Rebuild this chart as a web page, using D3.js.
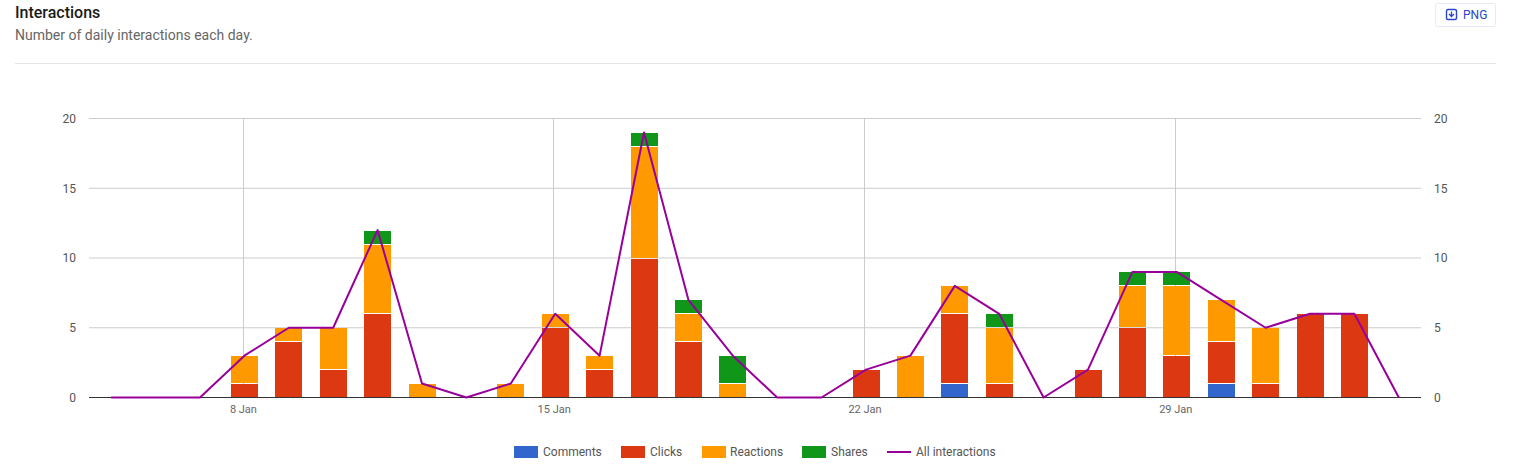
<!DOCTYPE html>
<html><head><meta charset="utf-8">
<script src="https://cdn.jsdelivr.net/npm/d3@7/dist/d3.min.js"></script>
<style>html,body{margin:0;padding:0;background:#fff}svg{display:block}text{font-family:Roboto,sans-serif}</style>
</head><body><svg id="c" width="1515" height="470"></svg>
<script>
const startDay = "2018-01-05";
const comments  = [0,0,0,0,0,0,0,0,0,0,0,0,0,0,0,0,0,0,0,1,0,0,0,0,0,1,0,0,0,0];
const clicks    = [0,0,0,1,4,2,6,0,0,0,5,2,10,4,0,0,0,2,0,5,1,0,2,5,3,3,1,6,6,0];
const reactions = [0,0,0,2,1,3,5,1,0,1,1,1,8,2,1,0,0,0,3,2,4,0,0,3,5,3,4,0,0,0];
const shares    = [0,0,0,0,0,0,1,0,0,0,0,0,1,1,2,0,0,0,0,0,1,0,0,1,1,0,0,0,0,0];
const allInteractions = [0,0,0,3,5,5,12,1,0,1,6,3,19,7,3,0,0,2,3,8,6,0,2,9,9,7,5,6,6,0];
const yTicks = [0,5,10,15,20];
const xTickDays = ["2018-01-08","2018-01-15","2018-01-22","2018-01-29"];
const seriesNames = ["Comments","Clicks","Reactions","Shares"];
const seriesColors = ["#3366cc","#dc3912","#ff9900","#109618"];
const lineName = "All interactions", lineColor = "#990099";

const svg = d3.select("#c");
const parse = d3.utcParse("%Y-%m-%d");
const t0 = parse(startDay);
const days = allInteractions.map((_,i)=>d3.utcDay.offset(t0,i));
const x = d3.scaleUtc()
  .domain([d3.utcHour.offset(t0,-12), d3.utcHour.offset(days[days.length-1],12)])
  .range([89,1421]);
const y = d3.scaleLinear().domain([0,20]).range([397.5,118.5]);

// header
svg.append("text").attr("x",15).attr("y",18).attr("font-size",16).attr("font-weight",500).attr("fill","#1a1a1a").text("Interactions");
svg.append("text").attr("x",15).attr("y",40).attr("font-size",14).attr("fill","#666").text("Number of daily interactions each day.");
svg.append("line").attr("x1",15).attr("x2",1496).attr("y1",63.5).attr("y2",63.5).attr("stroke","#e4e4e4");
// PNG button
const b = svg.append("g");
b.append("rect").attr("x",1435.5).attr("y",3.5).attr("width",60).attr("height",23).attr("rx",2).attr("fill","#fff").attr("stroke","#e6e9f8");
b.append("rect").attr("x",1446.5).attr("y",9.5).attr("width",10).attr("height",10).attr("rx",1.5).attr("fill","none").attr("stroke","#2a46c8").attr("stroke-width",1.4);
b.append("path").attr("d","M1451.5 11.5v4.5M1449 14l2.5 2.5 2.5-2.5").attr("fill","none").attr("stroke","#2a46c8").attr("stroke-width",1.3);
b.append("text").attr("x",1463).attr("y",19).attr("font-size",12).attr("fill","#2a46c8").text("PNG");

// grid
const gridX = d => Math.floor(x(parse(d))-1.3)+.5;
const g = svg.append("g");
g.selectAll(".h").data(yTicks.filter(d=>d>0)).join("line")
  .attr("x1",89).attr("x2",1421).attr("y1",d=>y(d)).attr("y2",d=>y(d)).attr("stroke","#cccccc");
g.selectAll(".v").data(xTickDays).join("line")
  .attr("x1",gridX).attr("x2",gridX)
  .attr("y1",118).attr("y2",397).attr("stroke","#cccccc");

// stacked bars
const rows = days.map((d,i)=>({day:d,Comments:comments[i],Clicks:clicks[i],Reactions:reactions[i],Shares:shares[i]}));
const stack = d3.stack().keys(seriesNames)(rows);
const barW = 27;
const segTop = d => Math.round(y(d[1])+.5);
const segBottom = d => d[0]>0 ? Math.round(y(d[0])-.5) : y(0);
stack.forEach((s,k)=>{
  svg.append("g").selectAll("rect").data(s.filter(d=>d[1]>d[0])).join("rect")
    .attr("x",d=>Math.round(x(d.data.day)-barW/2))
    .attr("width",barW)
    .attr("y",segTop)
    .attr("height",d=>segBottom(d)-segTop(d))
    .attr("fill",seriesColors[k]);
});

// baseline
svg.append("line").attr("x1",89).attr("x2",1421).attr("y1",397.5).attr("y2",397.5).attr("stroke","#333");

// line
const line = d3.line().x((d,i)=>x(days[i])).y(d=>y(d));
svg.append("path").datum(allInteractions).attr("d",line).attr("fill","none").attr("stroke",lineColor).attr("stroke-width",2).attr("stroke-linejoin","round");

// axes text
const yL = d3.axisLeft(y).tickValues(yTicks).tickSize(0).tickPadding(0);
const gl = svg.append("g").attr("transform","translate(76,0)").call(yL);
const yR = d3.axisRight(y).tickValues(yTicks).tickSize(0).tickPadding(0);
const gr = svg.append("g").attr("transform","translate(1434,0)").call(yR);
[gl,gr].forEach(a=>{a.select(".domain").remove();a.selectAll("text").attr("font-size",12).attr("font-family","Roboto").attr("fill","#555");});
const xA = d3.axisBottom(x).tickValues(xTickDays.map(parse)).tickFormat(d3.utcFormat("%-d %b")).tickSize(0).tickPadding(0);
const gx = svg.append("g").attr("transform","translate(-1.5,405)").call(xA);
gx.select(".domain").remove();
gx.selectAll("text").attr("font-size",11).attr("font-family","Roboto").attr("fill","#666");

// legend
const legendX = [514,621,702,802];
const legendTextX = [543,650,730,831];
seriesNames.forEach((n,i)=>{
  svg.append("rect").attr("x",legendX[i]).attr("y",446).attr("width",24).attr("height",12).attr("fill",seriesColors[i]);
  svg.append("text").attr("x",legendTextX[i]).attr("y",456).attr("font-size",12).attr("fill","#555").text(n);
});
svg.append("line").attr("x1",887).attr("x2",911).attr("y1",452).attr("y2",452).attr("stroke",lineColor).attr("stroke-width",2);
svg.append("text").attr("x",916).attr("y",456).attr("font-size",12).attr("fill","#555").text(lineName);
</script></body></html>
